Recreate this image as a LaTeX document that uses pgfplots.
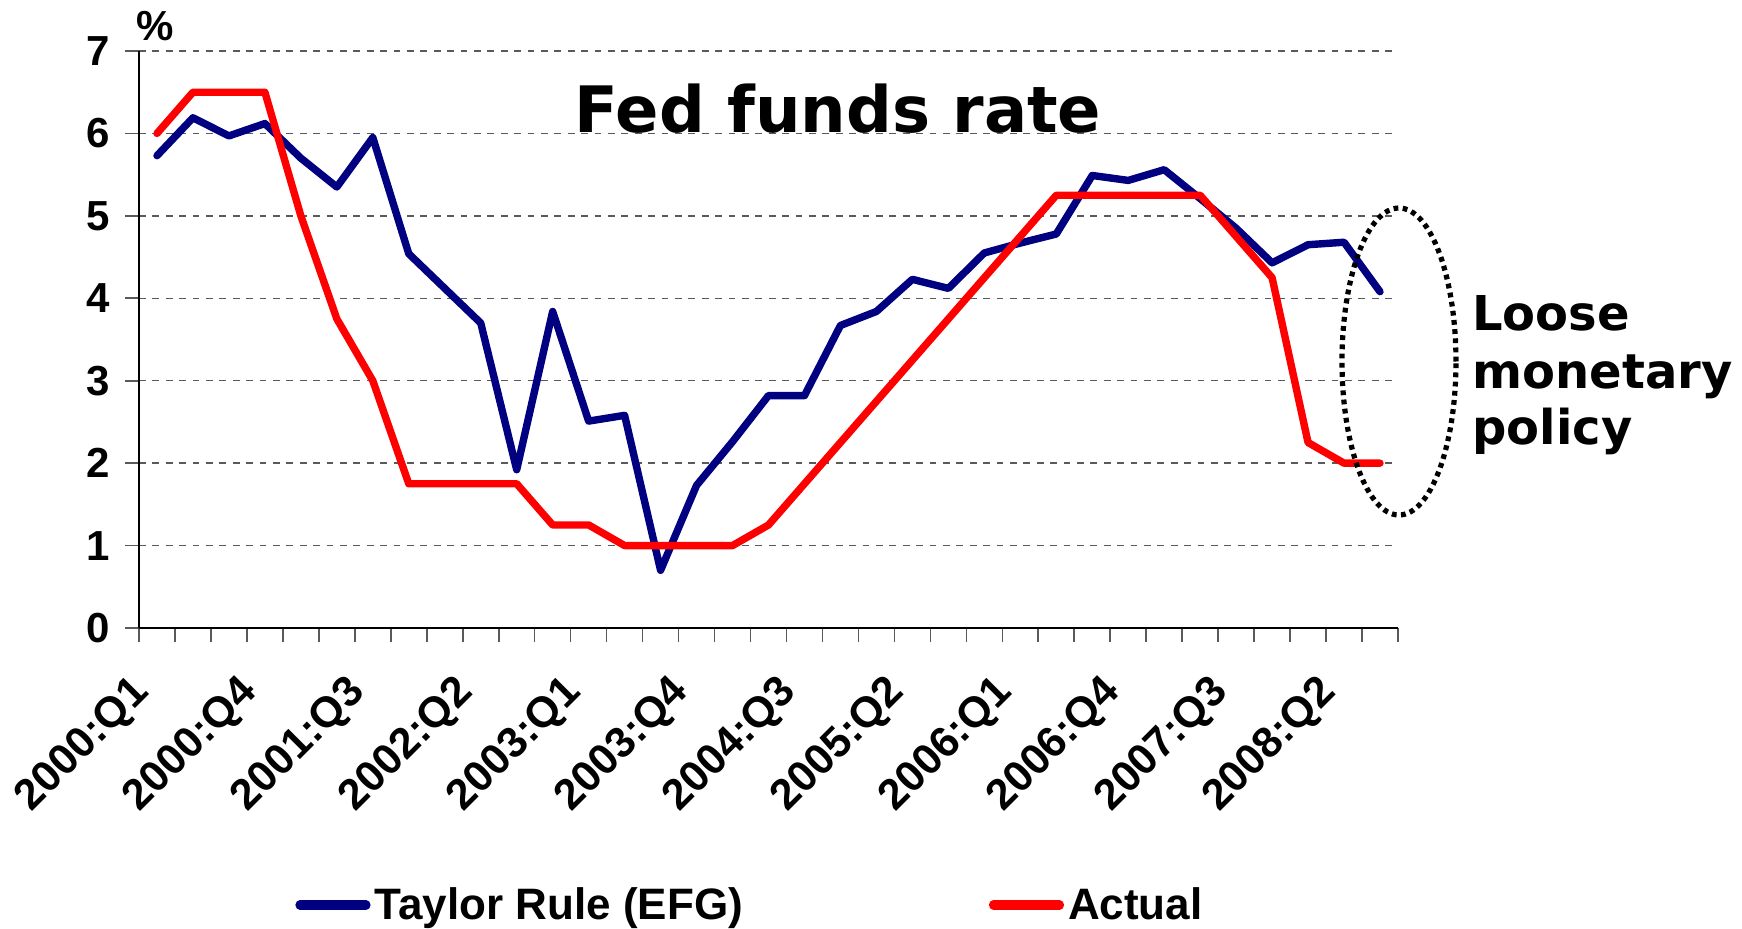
\documentclass[border=0pt]{standalone}
\usepackage{fontspec}
\setmainfont{Liberation Sans}
\newfontfamily\djv{DejaVu Sans}
\usepackage{pgfplots}
\pgfplotsset{compat=1.18}
\definecolor{navyblue}{RGB}{0,0,128}
\definecolor{gridgray}{RGB}{90,90,90}
\begin{document}
\begin{tikzpicture}
\begin{axis}[
  at={(0,0)}, anchor=south west,
  scale only axis, width=629.5pt, height=288.5pt,
  xmin=-0.5, xmax=34.5, ymin=0, ymax=7,
  axis x line*=bottom, axis y line*=left,
  axis line style={-, line width=0.8pt, black},
  tick align=outside,
  major tick length=7pt,
  tick style={gray!70!black, line width=0.8pt},
  ytick={0,...,7},
  ymajorgrids,
  grid style={gridgray, line width=0.75pt, dash pattern=on 3.4pt off 3.3pt},
  xtick={-0.5,0.5,...,34.5},
  xticklabel=\empty,
  extra x ticks={0,3,...,33},
  extra x tick labels={2000:Q1,2000:Q4,2001:Q3,2002:Q2,2003:Q1,2003:Q4,2004:Q3,2005:Q2,2006:Q1,2006:Q4,2007:Q3,2008:Q2},
  extra x tick style={major tick length=0pt, xticklabel style={anchor=east, inner sep=0pt, xshift=-7pt, yshift=-29pt, rotate=45}},
  /pgf/number format/assume math mode=true,
  xticklabel style={font=\fontsize{21.5}{26}\selectfont\bfseries},
  yticklabel style={font=\fontsize{21}{25}\selectfont\bfseries, anchor=east, inner sep=0pt, xshift=-7.5pt},
  clip=false,
  legend columns=2,
  legend style={draw=none, fill=none, inner sep=0pt, at={(0.1239,-0.480)}, anchor=west,
    font=\fontsize{22}{26}\selectfont\bfseries,
    /tikz/every even column/.append style={column sep=121pt}},
  legend image code/.code={\draw[#1, line width=4.6pt, line cap=round] (0pt,0pt) -- (33pt,0pt);},
]
\addplot[navyblue, line width=3.7pt, line join=round, line cap=round] coordinates {
(0,5.73) (1,6.19) (2,5.97) (3,6.12) (4,5.70) (5,5.35) (6,5.95) (7,4.54) (8,4.12) (9,3.70)
(10,1.92) (11,3.84) (12,2.51) (13,2.58) (14,0.70) (15,1.73) (16,2.26) (17,2.82) (18,2.82) (19,3.67)
(20,3.84) (21,4.23) (22,4.12) (23,4.55) (24,4.67) (25,4.78) (26,5.49) (27,5.43) (28,5.56) (29,5.21)
(30,4.85) (31,4.43) (32,4.65) (33,4.68) (34,4.08)};
\addlegendentry{Taylor Rule (EFG)}
\addplot[red, line width=3.7pt, line join=round, line cap=round] coordinates {
(0,6.0) (1,6.5) (2,6.5) (3,6.5) (4,5.0) (5,3.75) (6,3.0) (7,1.75) (8,1.75) (9,1.75)
(10,1.75) (11,1.25) (12,1.25) (13,1.0) (14,1.0) (15,1.0) (16,1.0) (17,1.25) (18,1.75) (19,2.25)
(20,2.75) (21,3.25) (22,3.75) (23,4.25) (24,4.75) (25,5.25) (26,5.25) (27,5.25) (28,5.25) (29,5.25)
(30,4.75) (31,4.25) (32,2.25) (33,2.0) (34,2.0)};
\addlegendentry{Actual}
\end{axis}
\node[anchor=base west, inner sep=0pt, font=\fontsize{21}{25}\selectfont\bfseries] at (-1.5pt,293.5pt) {\%};
\node[anchor=base, inner sep=0pt, font=\djv\bfseries\fontsize{32}{38}\selectfont] at (349.5pt,247.5pt) {Fed funds rate};
\node[anchor=base west, inner sep=0pt, font=\djv\bfseries\fontsize{24}{29}\selectfont] at (666.5pt,149pt) {Loose};
\node[anchor=base west, inner sep=0pt, font=\djv\bfseries\fontsize{24}{29}\selectfont] at (666.5pt,120pt) {monetary};
\node[anchor=base west, inner sep=0pt, font=\djv\bfseries\fontsize{24}{29}\selectfont] at (666.5pt,92pt) {policy};
\draw[line width=2.6pt, dash pattern=on 2.4pt off 2.2pt] (630pt,133.25pt) ellipse [x radius=28.5pt, y radius=76.75pt];
\pgfresetboundingbox
\useasboundingbox (-69.5pt,-150pt) rectangle (801.5pt,314pt);
\end{tikzpicture}
\end{document}
